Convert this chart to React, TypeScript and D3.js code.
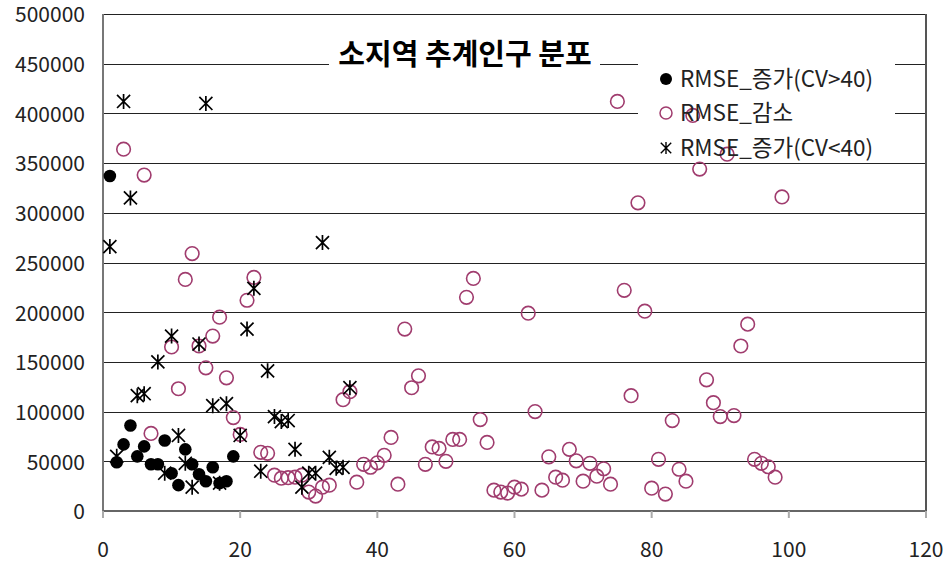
import * as d3 from 'd3';

// Series values (x = running index)
const increaseHighX = [1, 2, 3, 4, 5, 6, 7, 8, 9, 10, 11, 12, 13, 14, 15, 16, 17, 18, 19];
const increaseHighY = [337000, 49000, 67000, 86000, 55000, 65000, 47000, 47000, 71000, 38000, 26000, 62000, 47000, 37000, 30000, 44000, 28000, 30000, 55000];

const decreaseX = [
  3, 6, 7, 10, 11, 12, 13, 14, 15, 16, 17, 18, 19, 20, 21, 22, 23, 24, 25, 26, 27, 28, 29, 30, 31, 32, 33,
  35, 36, 37, 38, 39, 40, 41, 42, 43, 44, 45, 46, 47, 48, 49, 50, 51, 52, 53, 54, 55, 56, 57, 58, 59, 60,
  61, 62, 63, 64, 65, 66, 67, 68, 69, 70, 71, 72, 73, 74, 75, 76, 77, 78, 79, 80, 81, 82, 83, 84, 85, 86,
  87, 88, 89, 90, 91, 92, 93, 94, 95, 96, 97, 98, 99,
];
const decreaseY = [
  364000, 338000, 78000, 165000, 123000, 233000, 259000, 166000, 144000, 176000, 195000, 134000, 94000,
  77000, 212000, 235000, 59000, 58000, 36000, 33000, 33500, 34000, 36000, 19000, 15000, 24000, 26000,
  112000, 120000, 29000, 47000, 44000, 48500, 56000, 74000, 27000, 183000, 124000, 136000, 47000, 64500,
  63000, 50000, 72000, 72000, 215000, 234000, 92000, 69000, 21000, 19000, 18000, 24000, 22000, 199000,
  100000, 21000, 54500, 34000, 31000, 62000, 50500, 30000, 48000, 35000, 42500, 27000, 412000, 222000,
  116000, 310000, 201000, 23000, 52000, 17000, 91000, 42000, 30000, 398000, 344000, 132000, 109000,
  95000, 359000, 96000, 166000, 188000, 52000, 48000, 44500, 34000, 316000,
];

const increaseLowX = [1, 2, 3, 4, 5, 6, 8, 9, 10, 11, 12, 13, 14, 15, 16, 17, 18, 20, 21, 22, 23, 24, 25, 26, 27, 28, 29, 30, 31, 32, 33, 34, 35, 36];
const increaseLowY = [
  266000, 55000, 412000, 315000, 116000, 118000, 150000, 38000, 176000, 76000, 48000, 24000, 168000,
  410000, 106000, 28000, 108000, 76000, 183000, 224000, 40000, 141000, 95000, 90000, 91000, 62000, 24000,
  38000, 38000, 270000, 54000, 43000, 44000, 124000,
];

const xTicks = [0, 20, 40, 60, 80, 100, 120];
const yTicks = [0, 50000, 100000, 150000, 200000, 250000, 300000, 350000, 400000, 450000, 500000];

const title = '소지역 추계인구 분포';
const seriesNames = ['RMSE_증가(CV>40)', 'RMSE_감소', 'RMSE_증가(CV<40)'];

const FONT = '"Noto Sans CJK KR", "Noto Sans", sans-serif';
const CIRCLE_COLOR = '#a03c6e';

const starPath = (s: number) =>
  `M0,${-s}L0,${s}M${-s * 0.87},${-s * 0.87}L${s * 0.87},${s * 0.87}M${-s * 0.87},${s * 0.87}L${s * 0.87},${-s * 0.87}`;

export default function App() {
  const width = 950;
  const height = 565;
  const x = d3.scaleLinear().domain([0, 120]).range([103, 926]);
  const y = d3.scaleLinear().domain([0, 500000]).range([511, 14]);

  const high = increaseHighX.map((v, i) => ({ x: v, y: increaseHighY[i] }));
  const dec = decreaseX.map((v, i) => ({ x: v, y: decreaseY[i] }));
  const low = increaseLowX.map((v, i) => ({ x: v, y: increaseLowY[i] }));

  const legendX = 666;
  const legendRows = [79, 113, 148];

  return (
    <svg
      width={width}
      height={height}
      style={{ position: 'absolute', left: 0, top: 0, background: '#fff' }}
      fontFamily={FONT}
    >
      {/* grid lines */}
      {yTicks.slice(1).map((t) => (
        <line key={t} x1={x(0)} x2={x(120)} y1={Math.round(y(t)) + 0.5} y2={Math.round(y(t)) + 0.5} stroke="#222" strokeWidth={1} />
      ))}

      {/* axes */}
      <line x1={x(0)} x2={x(0)} y1={y(500000)} y2={y(0)} stroke="#777" strokeWidth={2} />
      <line x1={x(120)} x2={x(120)} y1={y(500000)} y2={y(0)} stroke="#555" strokeWidth={2} />
      <line x1={x(0)} x2={x(120)} y1={y(0)} y2={y(0)} stroke="#666" strokeWidth={2} />
      {xTicks.map((t) => (
        <line key={t} x1={x(t)} x2={x(t)} y1={y(0)} y2={y(0) + 7} stroke="#aaa" strokeWidth={2} />
      ))}

      {/* tick labels */}
      {yTicks.map((t) => (
        <text key={t} x={85} y={y(t) + 1} dy="0.35em" textAnchor="end" fontSize={21} fill="#222">
          {t}
        </text>
      ))}
      {xTicks.map((t) => (
        <text key={t} x={x(t)} y={557} textAnchor="middle" fontSize={21} fill="#222">
          {t}
        </text>
      ))}

      {/* title and legend backgrounds */}
      <rect x={329} y={28} width={271} height={54} fill="#fff" />
      <rect x={638} y={56} width={257} height={102} fill="#fff" />
      <text x={465} y={65} textAnchor="middle" fontSize={29} fontWeight="bold" fill="#000">
        {title}
      </text>

      {/* series */}
      {high.map((d, i) => (
        <circle key={`h${i}`} cx={x(d.x)} cy={y(d.y)} r={6.3} fill="#000" />
      ))}
      {dec.map((d, i) => (
        <circle key={`d${i}`} cx={x(d.x)} cy={y(d.y)} r={6.8} fill="none" stroke={CIRCLE_COLOR} strokeWidth={1.6} />
      ))}
      {low.map((d, i) => (
        <path key={`l${i}`} d={starPath(7.5)} transform={`translate(${x(d.x)},${y(d.y)})`} stroke="#000" strokeWidth={1.7} fill="none" />
      ))}

      {/* legend */}
      <circle cx={legendX} cy={legendRows[0]} r={6} fill="#000" />
      <circle cx={legendX} cy={legendRows[1]} r={6} fill="none" stroke={CIRCLE_COLOR} strokeWidth={1.5} />
      <path d={starPath(6)} transform={`translate(${legendX},${legendRows[2]})`} stroke="#000" strokeWidth={1.4} fill="none" />
      {seriesNames.map((name, i) => (
        <text key={name} x={680} y={legendRows[i]} dy="0.35em" fontSize={22.5} fill="#222">
          {name}
        </text>
      ))}
    </svg>
  );
}
